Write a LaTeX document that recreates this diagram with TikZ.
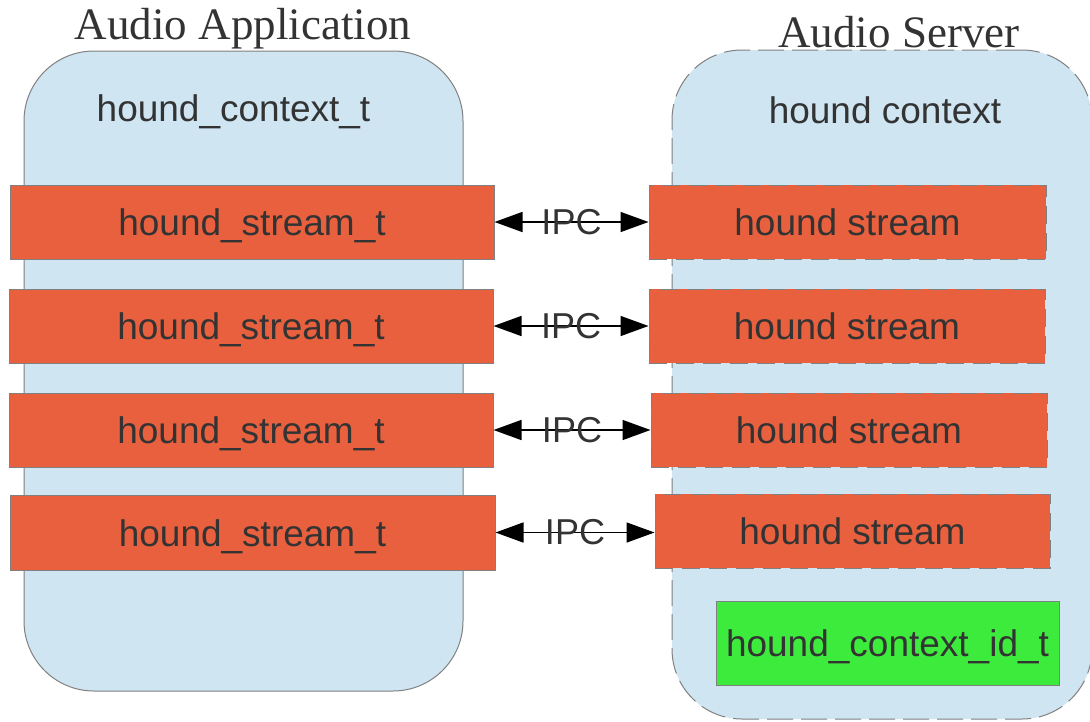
\documentclass[tikz,border=0pt]{standalone}
\usepackage{fontspec}
\setmainfont{Liberation Sans}
\newfontfamily\titlefont{Liberation Serif}
\usetikzlibrary{arrows.meta}
\definecolor{ctxblue}{RGB}{207,229,242}
\definecolor{strorange}{RGB}{232,96,62}
\definecolor{idgreen}{RGB}{61,235,61}
\definecolor{edgegray}{RGB}{128,128,128}
\definecolor{txt}{RGB}{51,51,51}
\tikzset{
  ctxbox/.style={draw=edgegray, fill=ctxblue, rounded corners=70pt, line width=1pt, inner sep=0pt},
  strbox/.style={draw=edgegray, fill=strorange, line width=1pt, inner sep=0pt, text=txt,
                 font=\fontsize{37}{40}\selectfont, text height=27pt, text depth=0pt},
  dashedge/.style={dash pattern=on 18pt off 9pt},
  ctxlabel/.style={text=txt, font=\fontsize{37}{40}\selectfont, anchor=base, inner sep=0pt},
  titlelabel/.style={text=txt, font=\titlefont\fontsize{45}{50}\selectfont, anchor=base, inner sep=0pt},
  ipc/.style={<->, >={Triangle[length=28pt,width=20pt]}, line width=1.5pt, black},
  ipclabel/.style={text=txt, font=\fontsize{36}{40}\selectfont, inner sep=0pt}
}
\begin{document}
\begin{tikzpicture}[x=1pt,y=-1pt]
\useasboundingbox[fill=white] (0,0) rectangle (1090,721);
% containers
\node[ctxbox, minimum width=439pt, minimum height=640pt] (app) at (243.5,371) {};
\node[ctxbox, dash pattern=on 26pt off 8pt, minimum width=420pt, minimum height=669pt] (srv) at (882,384.5) {};
% titles
\node[titlelabel] (apptitle) at (243,39) {Audio Application};
\node[titlelabel] (srvtitle) at (899,47) {Audio Server};
% context labels
\node[ctxlabel] (appctx) at (233.5,121) {hound\_context\_t};
\node[ctxlabel] (srvctx) at (885,123) {hound context};
% left streams
\node[strbox, minimum width=484pt, minimum height=74pt] (L1) at (252,222) {hound\_stream\_t};
\node[strbox, minimum width=484pt, minimum height=74pt] (L2) at (251,326) {hound\_stream\_t};
\node[strbox, minimum width=484pt, minimum height=74pt] (L3) at (251,430) {hound\_stream\_t};
\node[strbox, minimum width=485pt, minimum height=75pt] (L4) at (252.5,532.5) {hound\_stream\_t};
% right streams
\node[strbox, dashedge, minimum width=397pt, minimum height=74pt] (R1) at (847.5,222) {hound stream};
\node[strbox, dashedge, minimum width=396pt, minimum height=74pt] (R2) at (847,326) {hound stream};
\node[strbox, dashedge, minimum width=396pt, minimum height=74pt] (R3) at (849,430) {hound stream};
\node[strbox, dashedge, minimum width=395pt, minimum height=74pt] (R4) at (852.5,531) {hound stream};
% id box
\node[draw=edgegray, fill=idgreen, line width=1pt, inner sep=0pt, text=txt,
      font=\fontsize{37}{40}\selectfont, text height=27pt, text depth=0pt,
      minimum width=343pt, minimum height=84pt] (cid) at (887.5,643) {hound\_context\_id\_t};
% IPC arrows
\foreach \i in {1,2,3,4}{
  \draw[ipc] (L\i.east) -- (L\i.east -| R\i.west) node[midway, ipclabel] {IPC};
}
\end{tikzpicture}
\end{document}
